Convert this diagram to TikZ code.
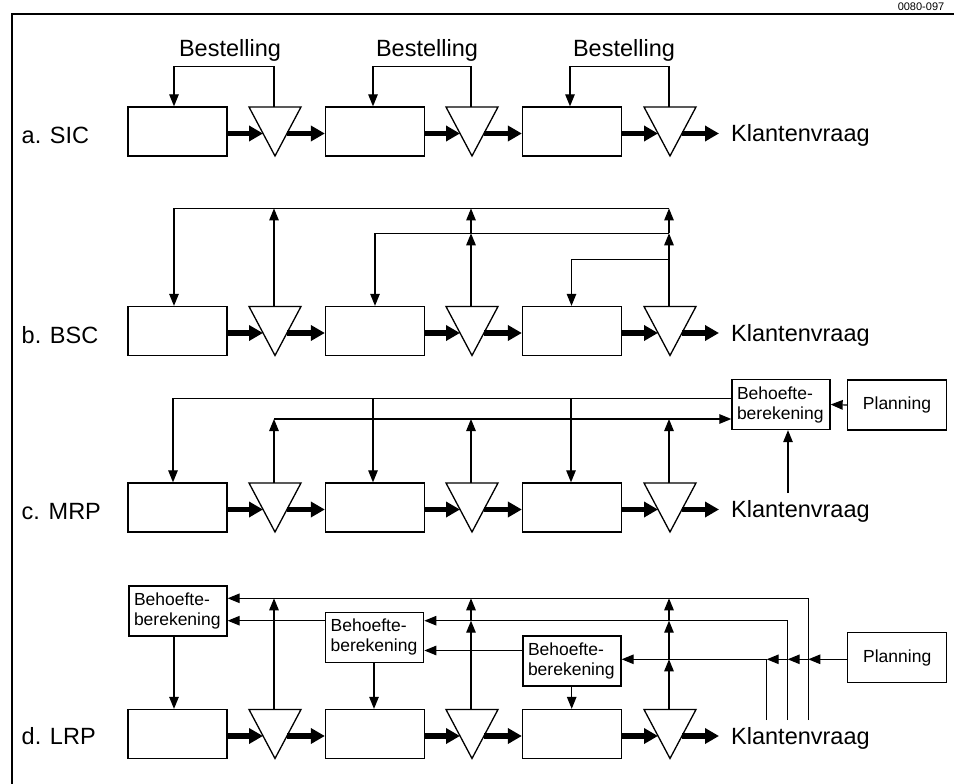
\documentclass[tikz,border=0pt]{standalone}
\usepackage{fontspec}
\setmainfont{Liberation Sans}
\usetikzlibrary{arrows.meta}
\newcommand\stocktri[3]{%
  \draw[line width=1.3pt,line join=miter] (#2,#3-24.5) -- (#2+52,#3-24.5) -- (#2+26,#3+24.5) -- cycle;
  \coordinate (#1-l) at (#2+14,#3+2);
  \coordinate (#1-r) at (#2+38,#3+2);
  \coordinate (#1-t) at (#2+25,#3-24.5);
}
\newcommand\chainrow[2]{%
  \node[proc] (#1b1) at (177.5,#2) {};
  \node[proc] (#1b2) at (375,#2) {};
  \node[proc] (#1b3) at (572,#2) {};
  \stocktri{#1t1}{249}{#2}
  \stocktri{#1t2}{446}{#2}
  \stocktri{#1t3}{644}{#2}
  \coordinate (#1out) at (719,#2+2);
  \draw[bigarrow] (#1b1.east |- #1t1-l) -- (#1t1-l);
  \draw[bigarrow] (#1t1-r) -- (#1b2.west |- #1t1-r);
  \draw[bigarrow] (#1b2.east |- #1t2-l) -- (#1t2-l);
  \draw[bigarrow] (#1t2-r) -- (#1b3.west |- #1t2-r);
  \draw[bigarrow] (#1b3.east |- #1t3-l) -- (#1t3-l);
  \draw[bigarrow] (#1t3-r) -- (#1out);
  \node[big,anchor=base west] (#1kv) at (731,#2+10) {Klantenvraag};
}
\begin{document}
\begin{tikzpicture}[x=1pt,y=-1pt,
  fline/.style={line width=1.2pt},
  farrow/.style={fline,-{Triangle[length=12pt,width=9.5pt]}},
  bigarrow/.style={line width=5.5pt,-{Triangle[length=14pt,width=15pt]}},
  proc/.style={draw,line width=1.3pt,minimum width=99pt,minimum height=49pt,inner sep=0pt},
  calc/.style={draw,line width=1.3pt,minimum width=98pt,minimum height=50pt,inner xsep=5pt,inner ysep=0pt,text width=88pt,align=left,font=\fontsize{17.5}{20}\selectfont},
  plan/.style={draw,line width=1.3pt,minimum width=99pt,minimum height=50pt,font=\fontsize{17.5}{20}\selectfont},
  big/.style={font=\fontsize{23.5}{28}\selectfont,inner sep=0pt},
]
\useasboundingbox (0,0) rectangle (954,784);
% frame and code
\draw[line width=1.2pt] (12,784) -- (12,14) -- (954,14);
\node[font=\fontsize{11}{12}\selectfont,anchor=base,inner sep=0pt] (code) at (921,10.5) {0080-097};

% ---------------- a. SIC
\node[big,anchor=base west] (la) at (21.5,143.5) {a. SIC};
\chainrow{a}{131.5}
\draw[farrow] (at1-t) |- (174,66.7) -- (ab1.north -| 174,0);
\draw[farrow] (at2-t) |- (373,66.7) -- (ab2.north -| 373,0);
\draw[farrow] (at3-t) |- (570,66.7) -- (ab3.north -| 570,0);
\node[big,anchor=base] (be1) at (230,56.7) {Bestelling};
\node[big,anchor=base] (be2) at (427,56.7) {Bestelling};
\node[big,anchor=base] (be3) at (624,56.7) {Bestelling};

% ---------------- b. BSC
\node[big,anchor=base west] (lb) at (21.5,343) {b. BSC};
\chainrow{b}{331}
\draw[farrow] (bt3-t |- 0,208.4) -| (bb1.north -| 174,0);
\draw[farrow] (bt3-t |- 0,233.3) -| (bb2.north -| 375,0);
\draw[farrow] (bt3-t |- 0,259.3) -| (bb3.north -| 571.5,0);
\draw[farrow] (bt1-t) -- (bt1-t |- 0,208.4);
\draw[farrow] (bt2-t) -- (bt2-t |- 0,233.3);
\draw[farrow] (bt2-t |- 0,233.3) -- (bt2-t |- 0,208.4);
\draw[farrow] (bt3-t) -- (bt3-t |- 0,233.3);
\draw[farrow] (bt3-t |- 0,233.3) -- (bt3-t |- 0,208.4);

% ---------------- c. MRP
\node[big,anchor=base west] (lc) at (21.5,519.5) {c. MRP};
\chainrow{c}{507.5}
\node[calc] (cc) at (781,404.5) {Behoefte-\\berekening};
\node[plan] (cp) at (897,405) {Planning};
\draw[farrow] (cp.west) -- (cc.east);
\coordinate (ckv) at (788,493);
\draw[farrow] (ckv) -- (ckv |- cc.south);
\draw[farrow] (cc.west |- 0,398.3) -| (cb1.north -| 173,0);
\draw[farrow] (373,398.3) -- (cb2.north -| 373,0);
\draw[farrow] (571,398.3) -- (cb3.north -| 571,0);
\draw[farrow] (ct1-t |- 0,419) -- (cc.west |- 0,419);
\draw[farrow] (ct1-t) -- (ct1-t |- 0,419);
\draw[farrow] (ct2-t) -- (ct2-t |- 0,419);
\draw[farrow] (ct3-t) -- (ct3-t |- 0,419);

% ---------------- d. LRP
\node[big,anchor=base west] (ld) at (21.5,744) {d. LRP};
\chainrow{d}{734}
\node[calc] (d1c) at (178,611) {Behoefte-\\berekening};
\node[calc] (d2c) at (374.7,637.2) {Behoefte-\\berekening};
\node[calc] (d3c) at (572,661) {Behoefte-\\berekening};
\node[plan] (dp) at (897.2,657.7) {Planning};
\draw[farrow] (d1c.south -| 174,0) -- (db1.north -| 174,0);
\draw[farrow] (d2c.south -| 374,0) -- (db2.north -| 374,0);
\draw[farrow] (d3c.south -| 571.7,0) -- (db3.north -| 571.7,0);
\coordinate (k1) at (808.3,720);
\coordinate (k2) at (787.7,720);
\coordinate (k3) at (766.7,720);
\draw[farrow] (k1) |- (d1c.east |- 0,598.3);
\draw[farrow] (k2) |- (d2c.east |- 0,620.7);
\draw[farrow] (d2c.west |- 0,620.7) -- (d1c.east |- 0,620.7);
\draw[farrow] (d3c.west |- 0,650.5) -- (d2c.east |- 0,650.5);
\draw[fline] (k3) -- (k3 |- 0,659.3);
\draw[farrow] (dp.west |- 0,659.3) -- (k1 |- 0,659.3);
\draw[farrow] (k1 |- 0,659.3) -- (k2 |- 0,659.3);
\draw[farrow] (k2 |- 0,659.3) -- (k3 |- 0,659.3);
\draw[farrow] (k3 |- 0,659.3) -- (d3c.east |- 0,659.3);
\draw[farrow] (dt1-t) -- (dt1-t |- 0,598.3);
\draw[farrow] (dt2-t) -- (dt2-t |- 0,620.7);
\draw[farrow] (dt2-t |- 0,620.7) -- (dt2-t |- 0,598.3);
\draw[farrow] (dt3-t) -- (dt3-t |- 0,659.3);
\draw[farrow] (dt3-t |- 0,659.3) -- (dt3-t |- 0,620.7);
\draw[farrow] (dt3-t |- 0,620.7) -- (dt3-t |- 0,598.3);
\end{tikzpicture}
\end{document}
